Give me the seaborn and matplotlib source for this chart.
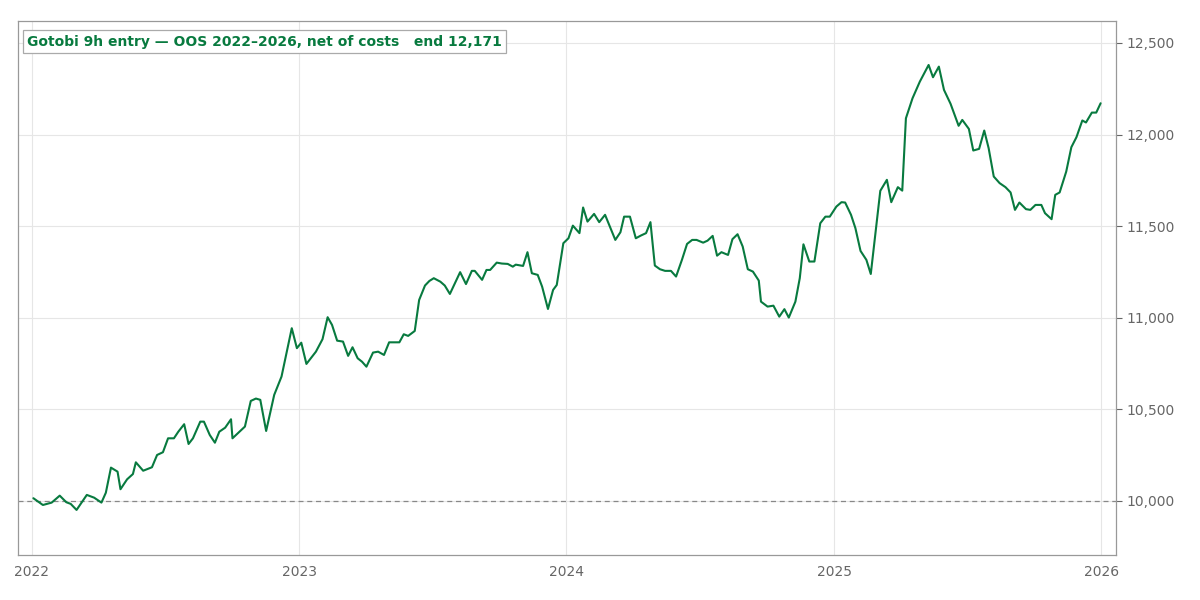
import pandas as pd
import matplotlib
matplotlib.use("Agg")
import matplotlib.pyplot as plt
import matplotlib.dates as mdates
from matplotlib.ticker import FuncFormatter, MultipleLocator
import seaborn as sns

# days since 2022-01-01 and account equity
days = [
    2, 15, 27, 38, 47, 53, 61, 75, 85, 95, 101, 108, 117, 121, 130, 138, 142, 152, 164, 171,
    179, 186, 194, 200, 208, 214, 220, 230, 235, 243, 250, 256, 264, 272, 274, 291, 299, 306, 312, 320,
    331, 341, 355, 362, 368, 375, 388, 397, 404, 410, 417, 425, 432, 438, 445, 451, 457, 466, 473, 481,
    488, 502, 508, 514, 523, 529, 537, 543, 549, 558, 564, 571, 578, 585, 593, 601, 605, 615, 621, 626,
    635, 642, 650, 657, 661, 671, 677, 683, 691, 697, 705, 712, 717, 726, 733, 739, 748, 753, 759, 768,
    775, 783, 797, 804, 809, 817, 825, 832, 839, 845, 851, 858, 865, 873, 880, 888, 895, 902, 908, 917,
    923, 930, 936, 942, 951, 957, 964, 971, 978, 985, 993, 996, 1005, 1013, 1021, 1028, 1034, 1043, 1049, 1054,
    1062, 1069, 1077, 1084, 1090, 1099, 1106, 1111, 1119, 1125, 1132, 1140, 1146, 1159, 1168, 1174, 1183, 1189, 1194, 1203,
    1213, 1225, 1231, 1239, 1246, 1255, 1266, 1271, 1280, 1286, 1294, 1301, 1307, 1314, 1322, 1330, 1337, 1343, 1349, 1358,
    1364, 1371, 1379, 1384, 1393, 1398, 1404, 1413, 1420, 1427, 1435, 1440, 1448, 1454, 1460,
]
equity = [
    10015, 9978, 9991, 10029, 9993, 9984, 9951, 10033, 10018, 9991, 10045, 10182, 10160, 10064, 10118, 10147, 10211, 10165, 10184, 10251,
    10266, 10342, 10342, 10378, 10419, 10311, 10342, 10433, 10433, 10360, 10318, 10378, 10400, 10446, 10342, 10406, 10546, 10559, 10552, 10382,
    10579, 10679, 10943, 10834, 10864, 10748, 10815, 10883, 11003, 10961, 10875, 10870, 10792, 10839, 10779, 10760, 10733, 10810, 10815, 10797,
    10866, 10866, 10910, 10901, 10928, 11097, 11176, 11201, 11216, 11197, 11176, 11130, 11189, 11249, 11184, 11256, 11256, 11207, 11261, 11261,
    11301, 11296, 11294, 11279, 11290, 11283, 11358, 11243, 11234, 11170, 11048, 11152, 11179, 11407, 11434, 11503, 11462, 11602, 11525, 11567,
    11522, 11562, 11425, 11467, 11552, 11552, 11434, 11449, 11462, 11522, 11285, 11265, 11256, 11256, 11225, 11316, 11403, 11425, 11425, 11410,
    11421, 11447, 11339, 11358, 11343, 11429, 11456, 11389, 11265, 11252, 11203, 11088, 11061, 11066, 11006, 11047, 11001, 11088, 11216, 11401,
    11307, 11307, 11516, 11552, 11552, 11607, 11631, 11629, 11562, 11489, 11365, 11316, 11239, 11693, 11753, 11631, 11713, 11694, 12089, 12198,
    12289, 12380, 12313, 12371, 12244, 12168, 12048, 12080, 12031, 11913, 11922, 12022, 11926, 11771, 11735, 11713, 11684, 11589, 11629, 11593,
    11589, 11616, 11616, 11571, 11538, 11671, 11684, 11798, 11931, 11986, 12077, 12066, 12120, 12120, 12171,
]
start_balance = 10000
year_ticks = ["2022", "2023", "2024", "2025", "2026"]

GREEN = "#087a3f"

df = pd.DataFrame({
    "date": pd.Timestamp("2022-01-01") + pd.to_timedelta(days, unit="D"),
    "equity": equity,
})

sns.set_style("white")
plt.rcParams["font.family"] = ["DejaVu Sans"]

fig = plt.figure(figsize=(12, 6), dpi=100)
ax = fig.add_axes([0.015, 0.075, 0.915, 0.89])

ax.grid(True, color="#e6e6e6", linewidth=0.8)
ax.set_axisbelow(True)
ax.axhline(start_balance, color="#888888", linestyle="--", linewidth=0.9, dashes=(4, 3))
sns.lineplot(data=df, x="date", y="equity", ax=ax, color=GREEN, linewidth=1.5)

ax.set_xlim(pd.Timestamp("2021-12-13"), pd.Timestamp("2026-01-21"))
ax.set_ylim(9705, 12620)
ax.set_xticks([pd.Timestamp(y + "-01-01") for y in year_ticks])
ax.xaxis.set_major_formatter(mdates.DateFormatter("%Y"))
ax.yaxis.set_major_locator(MultipleLocator(500))
ax.yaxis.set_major_formatter(FuncFormatter(lambda v, _: f"{v:,.0f}"))
ax.yaxis.tick_right()
ax.set_xlabel("")
ax.set_ylabel("")
ax.tick_params(axis="both", colors="#666666", labelsize=10, length=4, width=0.8)
for spine in ax.spines.values():
    spine.set_color("#999999")
    spine.set_linewidth(0.9)

ax.text(0.008, 0.9616,
        f"Gotobi 9h entry \u2014 OOS 2022\u20132026, net of costs   end {equity[-1]:,}",
        transform=ax.transAxes, va="center", ha="left",
        fontsize=10, fontweight="bold", color=GREEN,
        bbox=dict(boxstyle="square,pad=0.3", facecolor="white", edgecolor="#aaaaaa", linewidth=0.9))

fig.savefig("out.png", dpi=100)
